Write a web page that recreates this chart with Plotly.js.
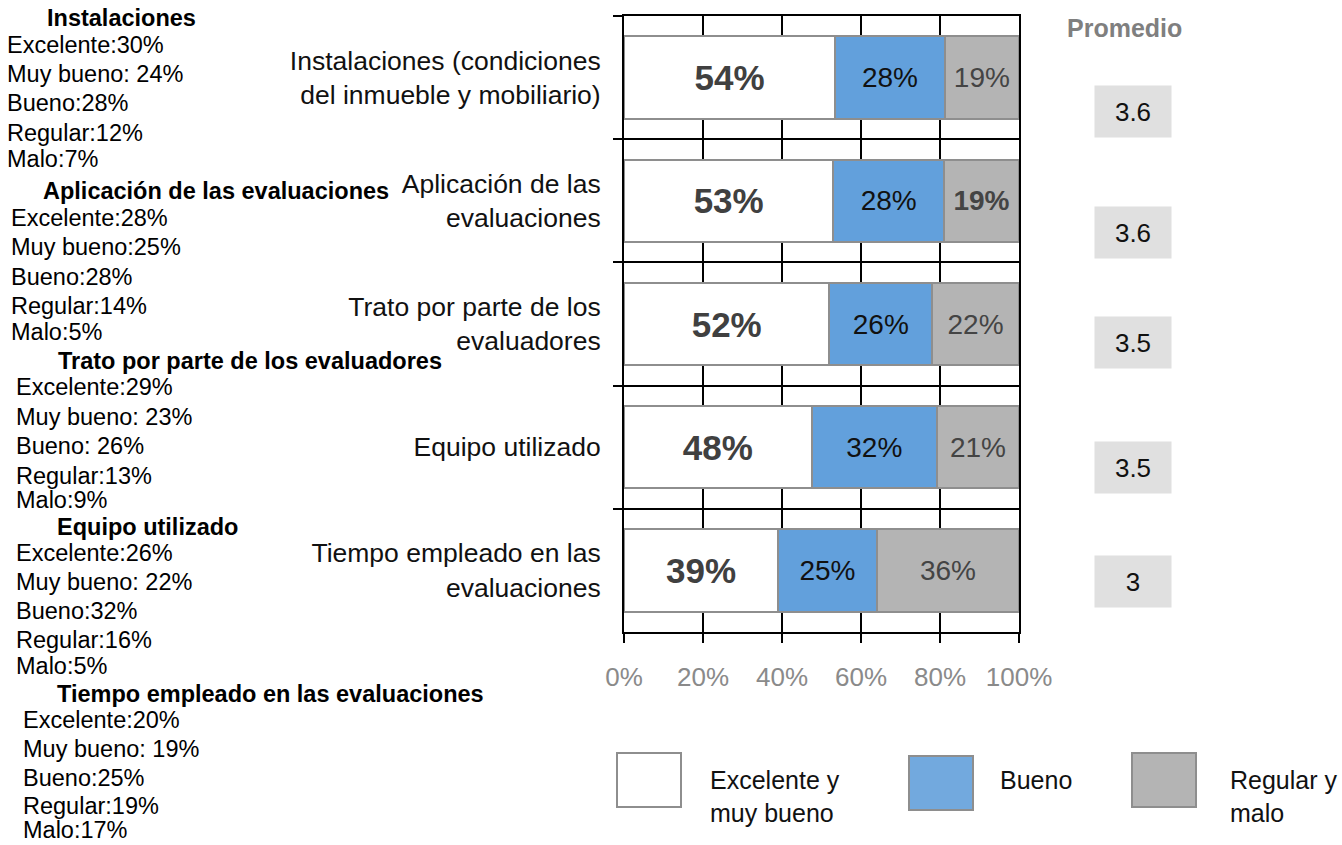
<!DOCTYPE html>
<html><head><meta charset="utf-8">
<script src="https://cdn.plot.ly/plotly-3.0.1.min.js"></script>
<style>body{margin:0;background:#fff}#chart{width:1342px;height:845px}</style>
</head><body><div id="chart"></div>
<script>
// ---------- DATA ----------
const categories = ["Instalaciones (condiciones<br>del inmueble y mobiliario)", "Aplicación de las<br>evaluaciones", "Trato por parte de los<br>evaluadores", "Equipo utilizado", "Tiempo empleado en las<br>evaluaciones"];
const seriesNames = ["Excelente y<br>muy bueno", "Bueno", "Regular y<br>malo"];
const excelenteMuyBueno = [54, 53, 52, 48, 39];
const bueno = [28, 28, 26, 32, 25];
const regularMalo = [19, 19, 22, 21, 36];
const boldRegularMalo = [false, true, false, false, false];
const promedio = ["3.6", "3.6", "3.5", "3.5", "3"];
const xTickVals = [0, 20, 40, 60, 80, 100];
const xTickText = ["0%", "20%", "40%", "60%", "80%", "100%"];
const detailTitles = ["Instalaciones", "Aplicación de las evaluaciones", "Trato por parte de los evaluadores", "Equipo utilizado", "Tiempo empleado en las evaluaciones"];
const detExcelente = [30, 28, 29, 26, 20];
const detMuyBueno = [24, 25, 23, 22, 19];
const detBueno = [28, 28, 26, 32, 25];
const detRegular = [12, 14, 13, 16, 19];
const detMalo = [7, 5, 9, 5, 17];
const sepMuyBueno = [" ", "", " ", " ", " "];
const sepBueno = ["", "", " ", "", ""];

// ---------- LAYOUT CONSTANTS (pixels) ----------
const W = 1342, H = 845;
const M = {l: 624, r: 323, t: 16, b: 213};
const plotW = W - M.l - M.r, plotH = H - M.t - M.b;
const px = x => (x - M.l) / plotW;
const py = y => (H - M.b - y) / plotH;

const colors = ["#ffffff", "#62a0dc", "#b4b4b4"];
const borderCol = "#8e8e8e";
const FONT = "Liberation Sans, Arial, sans-serif";

const pct = v => v + "%";
const traces = [
  {vals: excelenteMuyBueno, text: excelenteMuyBueno.map(v => "<b>" + pct(v) + "</b>"), font: {size: 35, color: "#404040"}},
  {vals: bueno, text: bueno.map(pct), font: {size: 28, color: "#111111"}},
  {vals: regularMalo, text: regularMalo.map((v, i) => boldRegularMalo[i] ? "<b>" + pct(v) + "</b>" : pct(v)), font: {size: 28, color: "#444444"}}
].map((t, k) => ({
  type: "bar", orientation: "h", name: seriesNames[k],
  y: categories, x: t.vals,
  text: t.text, textposition: "inside", insidetextanchor: "middle", textangle: 0,
  constraintext: "none",
  textfont: Object.assign({family: FONT}, t.font),
  marker: {color: colors[k], line: {color: borderCol, width: 2}},
  hoverinfo: "skip", showlegend: false, cliponaxis: false
}));

const annotations = [];
// Promedio header + boxes
annotations.push({xref: "paper", yref: "paper", x: px(1124), y: py(28), text: "<b>Promedio</b>",
  showarrow: false, xanchor: "center", yanchor: "middle", font: {family: FONT, size: 25, color: "#7f7f7f"}});
const promY = [111.5, 232.6, 342, 467.8, 581];
promedio.forEach((p, i) => annotations.push({xref: "paper", yref: "paper", x: px(1133), y: py(promY[i]), text: p,
  showarrow: false, xanchor: "center", yanchor: "middle", width: 76, height: 51, borderpad: 0,
  bgcolor: "#e0e0e0", font: {family: FONT, size: 26, color: "#111"}}));

// Left detail text blocks
const headY = [18, 191, 361, 527, 694];
const headX = [46, 42, 57, 56, 56];
const lineX = [6, 10, 15, 15, 22];
const lineOff = [[27, 56, 85, 115, 141], [27, 56, 86, 115, 141], [26, 56, 85, 115, 139], [26, 55, 84, 113, 139], [26, 55, 84, 112, 136]];
detailTitles.forEach((t, i) => {
  annotations.push({xref: "paper", yref: "paper", x: px(headX[i]), y: py(headY[i]), text: "<b>" + t + "</b>",
    showarrow: false, xanchor: "left", yanchor: "middle", borderpad: 0, font: {family: FONT, size: 23.5, color: "#000"}});
  const lines = [
    "Excelente:" + pct(detExcelente[i]),
    "Muy bueno:" + sepMuyBueno[i] + pct(detMuyBueno[i]),
    "Bueno:" + sepBueno[i] + pct(detBueno[i]),
    "Regular:" + pct(detRegular[i]),
    "Malo:" + pct(detMalo[i])
  ];
  lines.forEach((l, j) => annotations.push({xref: "paper", yref: "paper", x: px(lineX[i]), y: py(headY[i] + lineOff[i][j]), text: l,
    showarrow: false, xanchor: "left", yanchor: "middle", borderpad: 0, font: {family: FONT, size: 23.5, color: "#000"}}));
});

// Custom legend
const legBox = [[617, 681, 753, 807], [909, 973, 756, 810], [1132, 1196, 753, 807]];
const legTextX = [708, 998, 1228];
const shapes = [];
seriesNames.forEach((n, k) => {
  const b = legBox[k];
  shapes.push({type: "rect", xref: "paper", yref: "paper", x0: px(b[0]), x1: px(b[1]), y0: py(b[3]), y1: py(b[2]),
    fillcolor: colors[k] === "#62a0dc" ? "#72a9de" : colors[k], line: {color: borderCol, width: 2}});
  const single = n.indexOf("<br>") < 0;
  annotations.push({xref: "paper", yref: "paper", x: px(legTextX[k]), y: py(single ? 780 : 796), text: n,
    showarrow: false, xanchor: "left", yanchor: "middle", align: "left", font: {family: FONT, size: 25, color: "#111"}});
});

const layout = {
  width: W, height: H, margin: M,
  paper_bgcolor: "#fff", plot_bgcolor: "#fff",
  barmode: "stack", barnorm: "percent", bargap: 0.33,
  showlegend: false,
  font: {family: FONT},
  xaxis: {range: [0, 100], tickmode: "array", tickvals: xTickVals, ticktext: xTickText,
    ticks: "outside", ticklen: 9, tickwidth: 2, tickcolor: "#000",
    showgrid: true, gridcolor: "#000", gridwidth: 2, zeroline: false,
    showline: true, linecolor: "#000", linewidth: 2, mirror: true,
    tickfont: {family: FONT, size: 26, color: "#8a8a8a"}, ticklabelstandoff: 12, fixedrange: true},
  yaxis: {type: "category", autorange: "reversed", tickson: "boundaries",
    ticks: "outside", ticklen: 9, tickwidth: 2, tickcolor: "#000",
    showgrid: true, gridcolor: "#000", gridwidth: 2, zeroline: false,
    showline: true, linecolor: "#000", linewidth: 2, mirror: true,
    tickfont: {family: FONT, size: 26.5, color: "#111"}, ticklabelstandoff: 16, fixedrange: true},
  annotations: annotations,
  shapes: shapes
};

Plotly.newPlot("chart", traces, layout, {staticPlot: true, displayModeBar: false});
</script>
</body></html>
